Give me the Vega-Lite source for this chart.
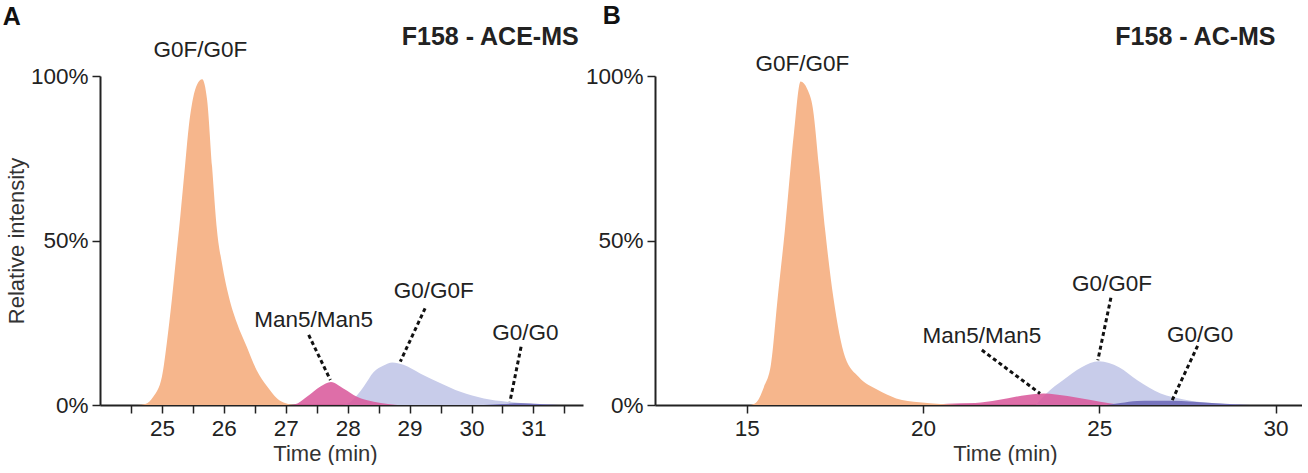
{
  "$schema": "https://vega.github.io/schema/vega-lite/v6.json",
  "padding": {"left": 2, "top": 4, "right": 0, "bottom": 0},
  "background": "white",
  "bounds": "flush",
  "spacing": 72,
  "config": {
    "view": {"stroke": null},
    "font": "Liberation Sans",
    "axis": {
      "grid": false,
      "domainColor": "#222",
      "domainWidth": 2,
      "tickColor": "#222",
      "tickWidth": 1.5,
      "tickSize": 8,
      "labelColor": "#222",
      "labelFont": "Liberation Sans",
      "labelFontSize": 22.5,
      "labelFlush": false,
      "labelOverlap": false,
      "titleColor": "#333",
      "titleFont": "Liberation Sans",
      "titleFontSize": 22,
      "titleFontWeight": "normal"
    }
  },
  "datasets": {
    "curvesA": [
      {"species": "G0F/G0F", "t": 24.6, "v": 0},
      {"species": "G0F/G0F", "t": 24.73, "v": 0.003},
      {"species": "G0F/G0F", "t": 24.86, "v": 0.025},
      {"species": "G0F/G0F", "t": 25.0, "v": 0.086},
      {"species": "G0F/G0F", "t": 25.08, "v": 0.19},
      {"species": "G0F/G0F", "t": 25.16, "v": 0.32},
      {"species": "G0F/G0F", "t": 25.23, "v": 0.45},
      {"species": "G0F/G0F", "t": 25.3, "v": 0.58},
      {"species": "G0F/G0F", "t": 25.37, "v": 0.72},
      {"species": "G0F/G0F", "t": 25.43, "v": 0.84},
      {"species": "G0F/G0F", "t": 25.5, "v": 0.93},
      {"species": "G0F/G0F", "t": 25.57, "v": 0.975},
      {"species": "G0F/G0F", "t": 25.65, "v": 0.99},
      {"species": "G0F/G0F", "t": 25.73, "v": 0.927},
      {"species": "G0F/G0F", "t": 25.81, "v": 0.724},
      {"species": "G0F/G0F", "t": 25.89, "v": 0.53},
      {"species": "G0F/G0F", "t": 25.97, "v": 0.43},
      {"species": "G0F/G0F", "t": 26.08, "v": 0.33},
      {"species": "G0F/G0F", "t": 26.21, "v": 0.25},
      {"species": "G0F/G0F", "t": 26.37, "v": 0.177},
      {"species": "G0F/G0F", "t": 26.53, "v": 0.106},
      {"species": "G0F/G0F", "t": 26.7, "v": 0.056},
      {"species": "G0F/G0F", "t": 26.86, "v": 0.02},
      {"species": "G0F/G0F", "t": 27.0, "v": 0.005},
      {"species": "G0F/G0F", "t": 27.15, "v": 0},
      {"species": "Man5/Man5", "t": 27.05, "v": 0},
      {"species": "Man5/Man5", "t": 27.15, "v": 0.002},
      {"species": "Man5/Man5", "t": 27.34, "v": 0.025},
      {"species": "Man5/Man5", "t": 27.56, "v": 0.056},
      {"species": "Man5/Man5", "t": 27.73, "v": 0.07},
      {"species": "Man5/Man5", "t": 27.93, "v": 0.05},
      {"species": "Man5/Man5", "t": 28.15, "v": 0.025},
      {"species": "Man5/Man5", "t": 28.42, "v": 0.01},
      {"species": "Man5/Man5", "t": 28.65, "v": 0.003},
      {"species": "Man5/Man5", "t": 28.8, "v": 0},
      {"species": "G0/G0F", "t": 27.9, "v": 0},
      {"species": "G0/G0F", "t": 28.05, "v": 0.01},
      {"species": "G0/G0F", "t": 28.26, "v": 0.056},
      {"species": "G0/G0F", "t": 28.42, "v": 0.1},
      {"species": "G0/G0F", "t": 28.58, "v": 0.12},
      {"species": "G0/G0F", "t": 28.72, "v": 0.129},
      {"species": "G0/G0F", "t": 28.9, "v": 0.122},
      {"species": "G0/G0F", "t": 29.17, "v": 0.096},
      {"species": "G0/G0F", "t": 29.5, "v": 0.066},
      {"species": "G0/G0F", "t": 29.82, "v": 0.04},
      {"species": "G0/G0F", "t": 30.2, "v": 0.02},
      {"species": "G0/G0F", "t": 30.57, "v": 0.01},
      {"species": "G0/G0F", "t": 31.0, "v": 0.003},
      {"species": "G0/G0F", "t": 31.3, "v": 0},
      {"species": "G0/G0", "t": 30.2, "v": 0},
      {"species": "G0/G0", "t": 30.5, "v": 0.003},
      {"species": "G0/G0", "t": 30.8, "v": 0.005},
      {"species": "G0/G0", "t": 31.1, "v": 0.003},
      {"species": "G0/G0", "t": 31.4, "v": 0}
    ],
    "curvesB": [
      {"species": "G0F/G0F", "t": 15.1, "v": 0},
      {"species": "G0F/G0F", "t": 15.18, "v": 0.002},
      {"species": "G0F/G0F", "t": 15.29, "v": 0.01},
      {"species": "G0F/G0F", "t": 15.49, "v": 0.055},
      {"species": "G0F/G0F", "t": 15.69, "v": 0.125},
      {"species": "G0F/G0F", "t": 15.88, "v": 0.326},
      {"species": "G0F/G0F", "t": 16.08, "v": 0.527},
      {"species": "G0F/G0F", "t": 16.34, "v": 0.826},
      {"species": "G0F/G0F", "t": 16.53, "v": 0.983},
      {"species": "G0F/G0F", "t": 16.72, "v": 0.96},
      {"species": "G0F/G0F", "t": 16.88, "v": 0.9},
      {"species": "G0F/G0F", "t": 17.05, "v": 0.724},
      {"species": "G0F/G0F", "t": 17.23, "v": 0.527},
      {"species": "G0F/G0F", "t": 17.46, "v": 0.326},
      {"species": "G0F/G0F", "t": 17.79, "v": 0.146},
      {"species": "G0F/G0F", "t": 18.18, "v": 0.085},
      {"species": "G0F/G0F", "t": 18.71, "v": 0.046},
      {"species": "G0F/G0F", "t": 19.24, "v": 0.02},
      {"species": "G0F/G0F", "t": 19.9, "v": 0.008},
      {"species": "G0F/G0F", "t": 20.5, "v": 0.003},
      {"species": "G0F/G0F", "t": 21.0, "v": 0},
      {"species": "Man5/Man5", "t": 20.3, "v": 0},
      {"species": "Man5/Man5", "t": 20.69, "v": 0.004},
      {"species": "Man5/Man5", "t": 21.48, "v": 0.006},
      {"species": "Man5/Man5", "t": 22.13, "v": 0.015},
      {"species": "Man5/Man5", "t": 22.79, "v": 0.028},
      {"species": "Man5/Man5", "t": 23.43, "v": 0.035},
      {"species": "Man5/Man5", "t": 24.1, "v": 0.027},
      {"species": "Man5/Man5", "t": 24.76, "v": 0.015},
      {"species": "Man5/Man5", "t": 25.29, "v": 0.005},
      {"species": "Man5/Man5", "t": 25.7, "v": 0},
      {"species": "G0/G0F", "t": 23.2, "v": 0},
      {"species": "G0/G0F", "t": 23.5, "v": 0.035},
      {"species": "G0/G0F", "t": 23.97, "v": 0.075},
      {"species": "G0/G0F", "t": 24.5, "v": 0.115},
      {"species": "G0/G0F", "t": 24.99, "v": 0.133},
      {"species": "G0/G0F", "t": 25.56, "v": 0.115},
      {"species": "G0/G0F", "t": 26.08, "v": 0.075},
      {"species": "G0/G0F", "t": 26.74, "v": 0.035},
      {"species": "G0/G0F", "t": 27.4, "v": 0.017},
      {"species": "G0/G0F", "t": 28.32, "v": 0.005},
      {"species": "G0/G0F", "t": 29.0, "v": 0},
      {"species": "G0/G0", "t": 25.2, "v": 0},
      {"species": "G0/G0", "t": 25.6, "v": 0.006},
      {"species": "G0/G0", "t": 26.08, "v": 0.012},
      {"species": "G0/G0", "t": 26.5, "v": 0.013},
      {"species": "G0/G0", "t": 27.0, "v": 0.013},
      {"species": "G0/G0", "t": 27.66, "v": 0.01},
      {"species": "G0/G0", "t": 28.3, "v": 0.005},
      {"species": "G0/G0", "t": 29.1, "v": 0.001},
      {"species": "G0/G0", "t": 29.4, "v": 0}
    ],
    "labelsA": [
      {"label": "G0F/G0F", "t": 25.62, "v": 1.057},
      {"label": "Man5/Man5", "t": 27.45, "v": 0.236},
      {"label": "G0/G0F", "t": 29.39, "v": 0.324},
      {"label": "G0/G0", "t": 30.87, "v": 0.198}
    ],
    "labelsB": [
      {"label": "G0F/G0F", "t": 16.58, "v": 1.016},
      {"label": "Man5/Man5", "t": 21.67, "v": 0.187},
      {"label": "G0/G0F", "t": 25.36, "v": 0.348},
      {"label": "G0/G0", "t": 27.86, "v": 0.19}
    ],
    "leadersA": [
      {"t": 27.37, "v": 0.213, "t2": 27.72, "v2": 0.076},
      {"t": 29.25, "v": 0.294, "t2": 28.85, "v2": 0.132},
      {"t": 30.8, "v": 0.177, "t2": 30.62, "v2": 0.01}
    ],
    "leadersB": [
      {"t": 21.67, "v": 0.167, "t2": 23.32, "v2": 0.035},
      {"t": 25.33, "v": 0.326, "t2": 24.96, "v2": 0.136},
      {"t": 27.79, "v": 0.18, "t2": 27.07, "v2": 0.015}
    ],
    "headA": [
      {"label": "F158 - ACE-MS", "t": 31.73, "v": 1.094}
    ],
    "headB": [
      {"label": "F158 - AC-MS", "t": 30.0, "v": 1.094}
    ],
    "letterA": [
      {"label": "A", "t": 22.43, "v": 1.155}
    ],
    "letterB": [
      {"label": "B", "t": 10.92, "v": 1.158}
    ]
  },
  "hconcat": [
    {
      "width": 483,
      "height": 329,
      "encoding": {
        "x": {
          "field": "t",
          "type": "quantitative",
          "title": "Time (min)",
          "scale": {"domain": [24, 31.8], "nice": false, "zero": false},
          "axis": {
            "values": [24.5, 25, 25.5, 26, 26.5, 27, 27.5, 28, 28.5, 29, 29.5, 30, 30.5, 31, 31.5],
            "labelExpr": "datum.value % 1 === 0 ? format(datum.value, 'd') : ''",
            "labelPadding": 4,
            "titlePadding": 4,
            "titleX": 225
          }
        },
        "y": {
          "field": "v",
          "type": "quantitative",
          "stack": null,
          "title": "Relative intensity",
          "scale": {"domain": [0, 1], "nice": false},
          "axis": {"values": [0, 0.5, 1], "format": ".0%", "labelPadding": 4, "titlePadding": 2}
        }
      },
      "layer": [
        {
          "data": {"name": "curvesA"},
          "transform": [{"filter": "datum.species === 'G0/G0F'"}],
          "mark": {"type": "area", "color": "#C8CCEA", "interpolate": "monotone"}
        },
        {
          "data": {"name": "curvesA"},
          "transform": [{"filter": "datum.species === 'Man5/Man5'"}],
          "mark": {"type": "area", "color": "#D95A9C", "opacity": 0.88, "interpolate": "monotone"}
        },
        {
          "data": {"name": "curvesA"},
          "transform": [{"filter": "datum.species === 'G0/G0'"}],
          "mark": {"type": "area", "color": "#6E6AB8", "opacity": 0.9, "interpolate": "monotone"}
        },
        {
          "data": {"name": "curvesA"},
          "transform": [{"filter": "datum.species === 'G0F/G0F'"}],
          "mark": {"type": "area", "color": "#F6B68C", "interpolate": "monotone"}
        },
        {
          "data": {"name": "leadersA"},
          "mark": {"type": "rule", "color": "#111", "strokeWidth": 3, "strokeDash": [4, 3]},
          "encoding": {"x2": {"field": "t2"}, "y2": {"field": "v2"}}
        },
        {
          "data": {"name": "labelsA"},
          "mark": {"type": "text", "fontSize": 22.5, "color": "#222", "align": "center", "baseline": "alphabetic"},
          "encoding": {"text": {"field": "label"}}
        },
        {
          "data": {"name": "headA"},
          "mark": {"type": "text", "fontSize": 25, "fontWeight": "bold", "color": "#222", "align": "right", "baseline": "alphabetic"},
          "encoding": {"text": {"field": "label"}}
        },
        {
          "data": {"name": "letterA"},
          "mark": {"type": "text", "fontSize": 25, "fontWeight": "bold", "color": "#111", "align": "left", "baseline": "alphabetic"},
          "encoding": {"text": {"field": "label"}}
        }
      ]
    },
    {
      "width": 647,
      "height": 329,
      "encoding": {
        "x": {
          "field": "t",
          "type": "quantitative",
          "title": "Time (min)",
          "scale": {"domain": [12.4, 30.75], "nice": false, "zero": false},
          "axis": {
            "values": [15, 20, 25, 30],
            "labelPadding": 4,
            "titlePadding": 4,
            "titleX": 350
          }
        },
        "y": {
          "field": "v",
          "type": "quantitative",
          "stack": null,
          "title": null,
          "scale": {"domain": [0, 1], "nice": false},
          "axis": {"values": [0, 0.5, 1], "format": ".0%", "labelPadding": 4}
        }
      },
      "layer": [
        {
          "data": {"name": "curvesB"},
          "transform": [{"filter": "datum.species === 'G0/G0F'"}],
          "mark": {"type": "area", "color": "#C8CCEA", "interpolate": "monotone"}
        },
        {
          "data": {"name": "curvesB"},
          "transform": [{"filter": "datum.species === 'Man5/Man5'"}],
          "mark": {"type": "area", "color": "#D95A9C", "opacity": 0.88, "interpolate": "monotone"}
        },
        {
          "data": {"name": "curvesB"},
          "transform": [{"filter": "datum.species === 'G0/G0'"}],
          "mark": {"type": "area", "color": "#6E6AB8", "opacity": 0.9, "interpolate": "monotone"}
        },
        {
          "data": {"name": "curvesB"},
          "transform": [{"filter": "datum.species === 'G0F/G0F'"}],
          "mark": {"type": "area", "color": "#F6B68C", "interpolate": "monotone"}
        },
        {
          "data": {"name": "leadersB"},
          "mark": {"type": "rule", "color": "#111", "strokeWidth": 3, "strokeDash": [4, 3]},
          "encoding": {"x2": {"field": "t2"}, "y2": {"field": "v2"}}
        },
        {
          "data": {"name": "labelsB"},
          "mark": {"type": "text", "fontSize": 22.5, "color": "#222", "align": "center", "baseline": "alphabetic"},
          "encoding": {"text": {"field": "label"}}
        },
        {
          "data": {"name": "headB"},
          "mark": {"type": "text", "fontSize": 25, "fontWeight": "bold", "color": "#222", "align": "right", "baseline": "alphabetic"},
          "encoding": {"text": {"field": "label"}}
        },
        {
          "data": {"name": "letterB"},
          "mark": {"type": "text", "fontSize": 25, "fontWeight": "bold", "color": "#111", "align": "left", "baseline": "alphabetic"},
          "encoding": {"text": {"field": "label"}}
        }
      ]
    }
  ]
}
